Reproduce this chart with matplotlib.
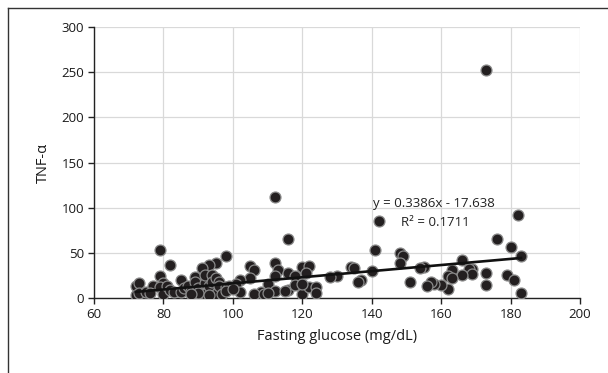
import numpy as np
import matplotlib
matplotlib.use("Agg")
import matplotlib.pyplot as plt
from matplotlib.lines import Line2D

# fasting glucose (mg/dL) vs TNF-alpha
glucose = [173, 112, 182, 142, 116, 176, 180, 141, 79, 148, 149, 98, 183, 148,
           82, 95, 93, 112, 105, 120, 122, 155, 154, 134, 135, 166, 169, 168,
           163, 169, 166, 173, 179, 181, 173, 183, 162, 163, 162, 160, 158, 157,
           156, 151, 140, 137, 136, 130, 128, 113, 116, 118, 112, 106, 105, 102,
           101, 102, 110, 112, 108, 106, 109, 110, 116, 115, 118, 120, 122, 124,
           124, 120, 121,
           72, 72, 73, 73, 75, 77, 76, 79, 80, 79, 80, 81, 82, 83, 85, 85, 86,
           87, 88, 89, 89, 89, 90, 91, 91, 92, 92, 92, 93, 94, 94, 95, 95, 96,
           96, 97, 98, 99, 98, 90, 88, 93, 100]
tnf = [252, 111.5, 92, 85, 65, 65, 57, 53, 53, 50, 46, 46, 46, 39,
       37, 39, 37, 39, 35, 34, 35, 34, 33, 34, 33, 42, 32, 32,
       31, 27, 25, 28, 25, 20, 14, 6, 24, 22, 10, 14, 15, 18,
       13, 18, 30, 20, 18, 24, 23, 31, 28, 24, 24, 31, 22, 20,
       15, 7, 15, 8, 7, 4, 5, 6, 9, 8, 14, 4, 12, 12,
       6, 15, 28,
       13, 3, 17, 6, 7, 13, 6, 24, 17, 12, 5, 13, 9, 7, 20, 7, 11,
       13, 8, 23, 18, 6, 11, 33, 6, 17, 26, 5, 13, 26, 18, 5, 22, 18,
       13, 5, 12, 13, 8, 6, 5, 3, 10]

slope = 0.3386
intercept = -17.638
r2 = 0.1711

plt.rcParams['font.family'] = ['Open Sans', 'DejaVu Sans']

fig = plt.figure(figsize=(6.08, 3.73), dpi=100)
ax = fig.add_axes([0.1546, 0.201, 0.7994, 0.7266])

ax.scatter(glucose, tnf, s=62, c='#231f20', edgecolors='#8a8a8a',
           linewidths=0.9, zorder=3)

xs = np.array([min(glucose), max(glucose)])
ax.plot(xs, slope * xs + intercept, color='#111111', lw=1.9, zorder=4)

ax.set_xlim(60, 200)
ax.set_ylim(0, 300)
ax.set_xticks(range(60, 201, 20))
ax.set_yticks(range(0, 301, 50))
ax.grid(True, color='#d9d9d9', lw=0.9)
ax.set_axisbelow(True)
for s in ['top', 'right']:
    ax.spines[s].set_visible(False)
for s in ['left', 'bottom']:
    ax.spines[s].set_color('#222222')
    ax.spines[s].set_linewidth(1.0)
ax.tick_params(direction='out', length=4, width=1.0, color='#222222',
               labelsize=9.5, labelcolor='#1a1a1a', pad=3)

ax.set_xlabel('Fasting glucose (mg/dL)', fontsize=10.5, color='#1a1a1a', labelpad=6)
ax.set_ylabel('TNF-α', fontsize=10.5, color='#1a1a1a', labelpad=8)

ax.text(140.5, 105, f'y = {slope}x - {abs(intercept)}', fontsize=9.5,
        color='#222222', va='center', ha='left')
ax.text(148.5, 84, f'R² = {r2}', fontsize=9.5,
        color='#222222', va='center', ha='left')

# outer frame: left and top edges only
fig.add_artist(Line2D([8 / 608, 8 / 608], [0, 1 - 8 / 373],
                      transform=fig.transFigure, color='#333333', lw=1.0))
fig.add_artist(Line2D([8 / 608, 1], [1 - 8 / 373, 1 - 8 / 373],
                      transform=fig.transFigure, color='#333333', lw=1.0))

fig.savefig('out.png', dpi=100)
